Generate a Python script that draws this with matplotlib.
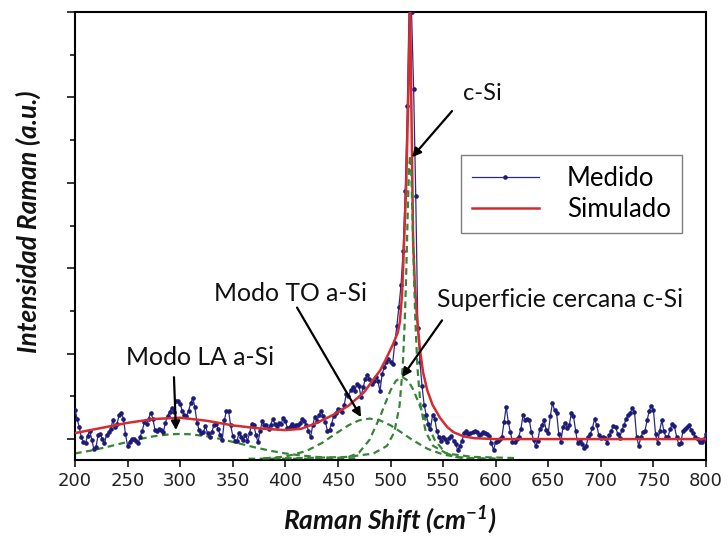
import numpy as np
import matplotlib
matplotlib.use("Agg")
import matplotlib.pyplot as plt
from matplotlib.ticker import MultipleLocator
from matplotlib.lines import Line2D

plt.rcParams['mathtext.default'] = 'regular'

# ---------------- data ----------------
shift_start, shift_stop, shift_step = 200, 800, 2
measured = [
    0.34, 0.24, 0.14, 0.02, -0.03, -0.05, 0.04, 0.10, -0.01, -0.12,
    -0.09, 0.05, 0.06, 0.00, -0.05, 0.05, 0.08, 0.12, 0.22, 0.14,
    0.18, 0.28, 0.31, 0.24, 0.06, -0.08, -0.03, 0.00, 0.00, -0.02,
    -0.05, 0.03, 0.10, 0.20, 0.18, 0.24, 0.31, 0.24, 0.11, 0.09,
    0.12, 0.11, 0.08, 0.19, 0.27, 0.32, 0.36, 0.32, 0.45, 0.44,
    0.41, 0.33, 0.28, 0.27, 0.33, 0.42, 0.48, 0.37, 0.19, 0.11,
    0.07, 0.08, 0.15, 0.07, 0.02, 0.08, 0.16, 0.18, 0.12, 0.05,
    -0.01, 0.22, 0.33, 0.33, 0.16, 0.04, -0.02, -0.02, 0.07, 0.03,
    -0.01, 0.05, -0.02, 0.07, 0.18, 0.17, 0.05, -0.04, 0.09, 0.21,
    0.16, 0.16, 0.12, 0.17, 0.23, 0.18, 0.15, 0.19, 0.18, 0.25,
    0.21, 0.13, 0.14, 0.18, 0.14, 0.17, 0.16, 0.19, 0.23, 0.21,
    0.17, 0.10, 0.02, 0.16, 0.26, 0.21, 0.28, 0.33, 0.27, 0.20,
    0.10, 0.11, 0.18, 0.27, 0.31, 0.35, 0.34, 0.32, 0.40, 0.53,
    0.50, 0.57, 0.61, 0.56, 0.64, 0.62, 0.49, 0.61, 0.70, 0.75,
    0.70, 0.64, 0.68, 0.73, 0.68, 0.56, 0.76, 0.84, 0.90, 0.94,
    0.90, 0.88, 1.12, 1.32, 1.55, 1.80, 2.20, 2.90, 3.90, 5.30,
    5.00, 4.10, 2.85, 1.30, 0.90, 0.62, 0.40, 0.28, 0.18, 0.12,
    0.28, 0.24, 0.10, 0.02, -0.02, 0.03, 0.00, -0.03, 0.01, 0.04,
    -0.02, -0.06, -0.13, -0.08, -0.02, 0.07, 0.09, 0.06, 0.07, 0.08,
    0.10, 0.08, 0.05, 0.06, 0.08, 0.07, 0.06, 0.04, -0.05, -0.13,
    -0.03, -0.02, 0.00, 0.03, 0.20, 0.38, 0.20, 0.08, -0.03, -0.04,
    0.00, 0.03, 0.12, 0.28, 0.22, 0.24, 0.22, 0.08, -0.01, -0.08,
    -0.02, 0.12, 0.16, 0.22, 0.11, 0.07, 0.27, 0.42, 0.34, 0.30,
    0.06, -0.03, 0.14, 0.19, 0.13, 0.16, 0.31, 0.27, 0.10, -0.05,
    -0.02, -0.06, -0.10, -0.08, 0.02, 0.06, 0.13, 0.23, 0.17, 0.05,
    0.01, 0.03, 0.01, -0.05, 0.05, 0.10, 0.15, 0.14, 0.06, 0.01,
    0.11, 0.16, 0.24, 0.28, 0.31, 0.36, 0.32, 0.03, -0.08, 0.02,
    0.08, 0.10, 0.22, 0.33, 0.39, 0.34, 0.06, -0.05, 0.10, 0.22,
    0.09, 0.02, 0.03, 0.12, 0.18, 0.15, 0.03, -0.06, -0.05, 0.09,
    0.12, 0.14, 0.16, 0.11, 0.07, 0.02, 0.00, -0.04, -0.03, 0.00,
    0.06,
]

sim_x = [200, 225, 250, 275, 300, 325, 350, 375, 400, 415, 430, 445, 460,
         475, 485, 490, 495, 502, 507, 509, 511, 512, 513, 515, 517, 518.6,
         520, 521.5, 523, 525, 528, 531, 535, 540, 547, 554, 560, 570, 580,
         600, 650, 700, 750, 800]
sim_y = [0.07, 0.13, 0.19, 0.235, 0.25, 0.215, 0.16, 0.125, 0.105, 0.12,
         0.19, 0.28, 0.39, 0.55, 0.72, 0.80, 0.92, 1.10, 1.25, 1.38, 1.70,
         2.00, 2.33, 3.00, 4.05, 5.10, 3.75, 2.33, 1.85, 1.45, 1.05, 0.78,
         0.57, 0.40, 0.25, 0.14, 0.08, 0.03, 0.01, 0.0, 0.0, 0.0, 0.0, 0.0]

la_x = [200, 215, 230, 245, 260, 275, 290, 300, 310, 325, 340, 355, 370,
        385, 400, 415, 430, 450, 470]
la_y = [-0.168, -0.135, -0.094, -0.048, -0.003, 0.033, 0.056, 0.06, 0.056,
        0.033, -0.003, -0.048, -0.094, -0.135, -0.168, -0.192, -0.209,
        -0.221, -0.227]

to_x = [380, 400, 420, 435, 450, 460, 470, 480, 490, 500, 510, 520, 535,
        550, 565, 580, 600]
to_y = [-0.225, -0.205, -0.140, -0.044, 0.081, 0.161, 0.219, 0.24, 0.219,
        0.161, 0.081, -0.004, -0.113, -0.181, -0.213, -0.225, -0.23]

ns_x = [365, 400, 440, 460, 470, 480, 490, 495, 500, 505, 511, 517, 522,
        527, 532, 542, 552, 562, 575, 600]
ns_y = [-0.23, -0.23, -0.23, -0.21, -0.16, -0.01, 0.26, 0.417, 0.57, 0.68,
        0.73, 0.68, 0.57, 0.417, 0.26, -0.01, -0.16, -0.21, -0.229, -0.23]

cs_x = [378.6, 418.6, 458.6, 483.6, 496.6, 503.6, 508.6, 511.6, 513.6,
        514.6, 515.6, 516.6, 517.6, 518.6, 519.6, 520.6, 521.6, 522.6,
        523.6, 525.6, 528.6, 533.6, 540.6, 553.6, 578.6, 618.6]
cs_y = [-0.226, -0.222, -0.209, -0.17, -0.08, 0.08, 0.39, 0.84, 1.40, 1.79,
        2.26, 2.76, 3.16, 3.32, 3.16, 2.76, 2.26, 1.79, 1.40, 0.84, 0.39,
        0.08, -0.08, -0.17, -0.209, -0.222]

xticks = [200, 250, 300, 350, 400, 450, 500, 550, 600, 650, 700, 750, 800]

# annotations: (text, text position, arrow tail, arrow tip)
ann_texts = ["c-Si", "Modo LA a-Si", "Modo TO a-Si", "Superficie cercana c-Si"]
ann_text_xy = [(587, 4.05), (319, 0.96), (405, 1.71), (661, 1.63)]
ann_sizes = [17, 17.8, 17.8, 17.8]
ann_tail = [(558.5, 3.84), (294.1, 0.725), (411.1, 1.54), (549.0, 1.39)]
ann_tip = [(520.5, 3.30), (296.0, 0.105), (472.0, 0.257), (511.0, 0.725)]

legend_labels = ["Medido", "Simulado"]

# ---------------- drawing ----------------
shift = np.arange(shift_start, shift_stop + 1, shift_step)

fig = plt.figure(figsize=(7.28, 5.37), dpi=100)
ax = fig.add_axes([75 / 728, 1 - 460 / 537, 631 / 728, 448 / 537])

blue = '#2a2a84'
red = '#d42c2f'
green = '#378437'
dash = (0, (3.0, 2.0))

for cx, cy in [(la_x, la_y), (to_x, to_y), (ns_x, ns_y)]:
    ax.plot(cx, cy, color=green, lw=1.6, ls=dash, zorder=2)

ax.plot(shift, measured, color=blue, lw=0.9, marker='o', ms=2.3,
        mfc='#1c1c78', mec='#1c1c78', zorder=3)
ax.plot(sim_x, sim_y, color=red, lw=1.8, zorder=4)
ax.plot(cs_x, cs_y, color=green, lw=1.6, ls=dash, zorder=5)

ax.set_xlim(200, 800)
ax.set_ylim(-0.245, 5.0)
ax.set_xticks(xticks)
ax.set_xticklabels([str(t) for t in xticks], fontfamily='DejaVu Sans',
                   fontsize=13, color='#222222')
ax.yaxis.set_major_locator(MultipleLocator(1))
ax.yaxis.set_minor_locator(MultipleLocator(0.5))
ax.set_yticklabels([])
ax.tick_params(axis='x', direction='out', length=5, width=1.1, pad=4)
ax.tick_params(axis='y', which='major', direction='out', length=6, width=1.1)
ax.tick_params(axis='y', which='minor', direction='out', length=3.3, width=1.1)
for s in ax.spines.values():
    s.set_linewidth(1.5)

for t, (tx, ty), fs, tail, tip in zip(ann_texts, ann_text_xy, ann_sizes,
                                      ann_tail, ann_tip):
    ax.text(tx, ty, t, ha='center', va='center', zorder=6,
            fontfamily='Lato', fontsize=fs, color='#111111')
    ax.annotate('', xy=tip, xytext=tail,
                arrowprops=dict(arrowstyle='-|>', color='black', lw=1.6,
                                mutation_scale=13, shrinkA=0, shrinkB=0),
                zorder=6)

handles = [Line2D([], [], color=blue, lw=0.9, marker='o', ms=2.3,
                  mfc='#1c1c78', mec='#1c1c78'),
           Line2D([], [], color=red, lw=1.8)]
leg = ax.legend(handles, legend_labels, loc='upper left',
                bbox_to_anchor=(0.612, 0.681), borderaxespad=0,
                frameon=True, fancybox=False, framealpha=1,
                edgecolor='#7f7f7f', numpoints=1,
                prop={'family': 'Lato', 'size': 18.5},
                handlelength=2.6, handletextpad=1.1, borderpad=0.42,
                labelspacing=0.26)
leg.get_frame().set_linewidth(1.0)
leg.set_zorder(7)

lab = dict(fontfamily='Lato', fontweight='bold', fontstyle='italic',
           fontsize=19, color='#111111')
fig.text(390 / 728, 1 - 520 / 537, 'Raman Shift (cm$^{-1}$)',
         ha='center', va='center', **lab)
fig.text(28 / 728, 1 - 222 / 537, 'Intensidad Raman (a.u.)',
         ha='center', va='center', rotation=90, **lab)

fig.savefig('out.png', dpi=100)
